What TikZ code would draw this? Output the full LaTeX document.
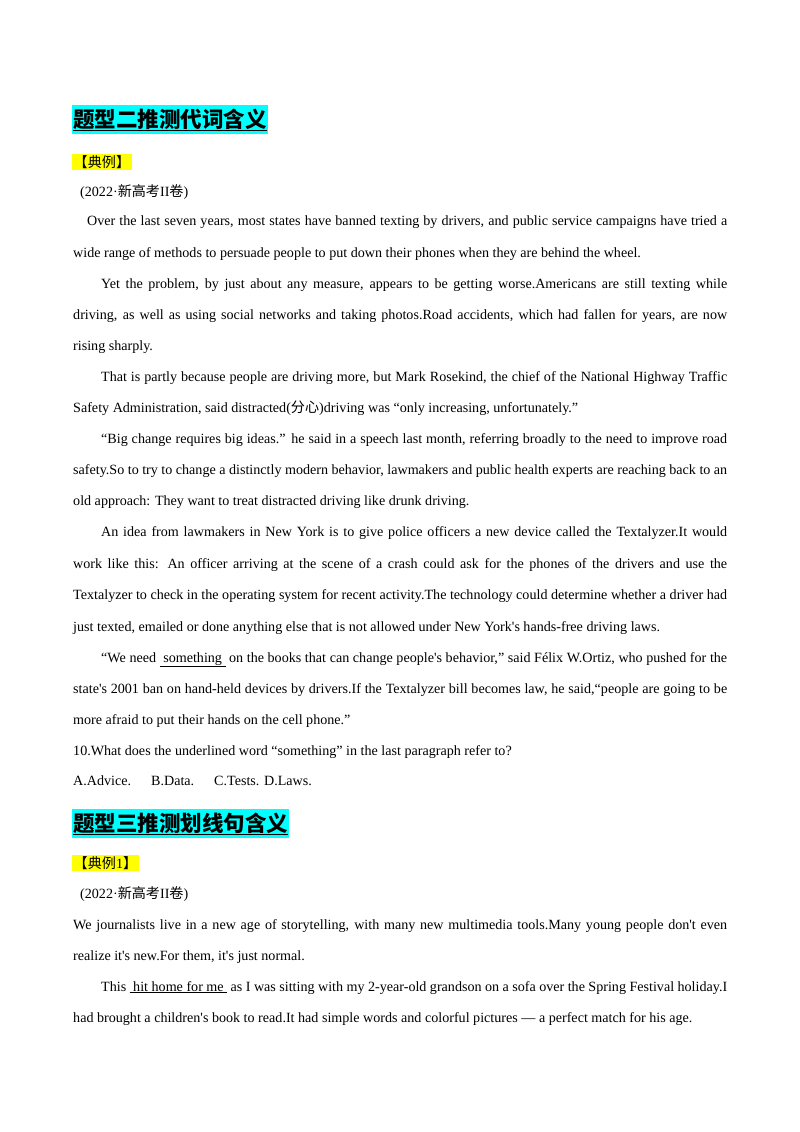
\documentclass[tikz,border=0pt]{standalone}
\usepackage{fontspec}
\setmainfont{Liberation Serif}[Ligatures=TeXOff]
\newfontfamily\cjk{Noto Sans CJK SC}
\definecolor{hcyan}{RGB}{0,255,255}
\definecolor{hyel}{RGB}{255,255,0}
\newcommand\JL[3]{\node[txt] at (#1pt,-#2pt) {\makebox[\dimexpr727pt-#1pt\relax][s]{#3}};}
\newcommand\RL[3]{\node[txt] at (#1pt,-#2pt) {#3};}
\begin{document}
\begin{tikzpicture}[x=1pt,y=1pt,txt/.style={anchor=base west,inner sep=0pt,font=\fontsize{14.1}{17}\selectfont},
head/.style={anchor=base west,inner xsep=1pt,inner ysep=3pt,fill=hcyan,font=\cjk\bfseries\fontsize{21.5}{26}\selectfont},
tag/.style={anchor=base west,inner sep=1.5pt,fill=hyel,font=\fontsize{14.1}{17}\selectfont}]
\useasboundingbox[fill=white] (0,0) rectangle (800,-1132);
% heading 1
\node[head] (h1) at (72,-127) {\underline{题型二推测代词含义}};
\node[tag] (e1) at (72,-167) {{\cjk 【典例】}};
\RL{80}{196}{(2022·{\cjk 新高考}II{\cjk 卷})}
\JL{87}{225}{Over the last seven years, most states have banned texting by drivers, and public service campaigns have tried a}
\RL{73}{257}{wide range of methods to persuade people to put down their phones when they are behind the wheel.}
\JL{101}{288}{Yet the problem, by just about any measure, appears to be getting worse.Americans are still texting while}
\JL{73}{319}{driving, as well as using social networks and taking photos.Road accidents, which had fallen for years, are now}
\RL{73}{350}{rising sharply.}
\JL{101}{381}{That is partly because people are driving more, but Mark Rosekind, the chief of the National Highway Traffic}
\RL{73}{412}{Safety Administration, said distracted({\cjk 分心})driving was “only increasing, unfortunately.”}
\JL{101}{443}{“Big change requires big ideas.” he said in a speech last month, referring broadly to the need to improve road}
\JL{73}{474}{safety.So to try to change a distinctly modern behavior, lawmakers and public health experts are reaching back to an}
\RL{73}{505}{old approach: They want to treat distracted driving like drunk driving.}
\JL{101}{536}{An idea from lawmakers in New York is to give police officers a new device called the Textalyzer.It would}
\JL{73}{568}{work like this: An officer arriving at the scene of a crash could ask for the phones of the drivers and use the}
\JL{73}{599}{Textalyzer to check in the operating system for recent activity.The technology could determine whether a driver had}
\RL{73}{631}{just texted, emailed or done anything else that is not allowed under New York's hands-free driving laws.}
\JL{101}{662}{“We need \underline{\ something\ } on the books that can change people's behavior,” said Félix W.Ortiz, who pushed for the}
\JL{73}{693}{state's 2001 ban on hand-held devices by drivers.If the Textalyzer bill becomes law, he said,“people are going to be}
\RL{73}{724}{more afraid to put their hands on the cell phone.”}
\RL{73}{755}{10.What does the underlined word “something” in the last paragraph refer to?}
\RL{73}{785}{A.Advice.\hspace{20pt}B.Data.\hspace{20pt}C.Tests. D.Laws.}
% heading 2
\node[head] (h2) at (72,-831) {\underline{题型三推测划线句含义}};
\node[tag] (e2) at (72,-868) {{\cjk 【典例}1{\cjk 】}};
\RL{80}{898}{(2022·{\cjk 新高考}II{\cjk 卷})}
\JL{73}{929}{We journalists live in a new age of storytelling, with many new multimedia tools.Many young people don't even}
\RL{73}{960}{realize it's new.For them, it's just normal.}
\JL{101}{991}{This \underline{\ hit home for me\ } as I was sitting with my 2-year-old grandson on a sofa over the Spring Festival holiday.I}
\RL{73}{1022}{had brought a children's book to read.It had simple words and colorful pictures — a perfect match for his age.}
\end{tikzpicture}
\end{document}
